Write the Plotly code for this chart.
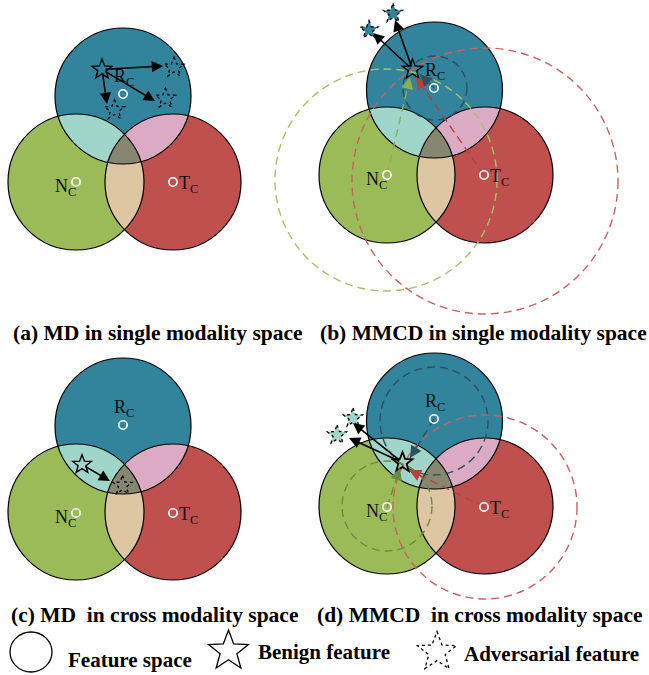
import numpy as np
import plotly.graph_objects as go

W, H = 649, 675

# ---------------- data ----------------
BLUE, GREEN, RED = "#31849B", "#9BBB59", "#C0504D"
C_RN, C_RT, C_NT, C_RNT = "#A0D5CA", "#DDAAC4", "#DFC6A2", "#878771"
DARK = "#2E4F5E"

panels = ["a", "b", "c", "d"]
radius = 68
R_cx = [123, 434.5, 123, 434.5]
R_cy = [96, 90, 426, 421]
N_cx = [76, 387, 76, 387]
N_cy = [182, 175, 512, 506]
T_cx = [173, 485, 173, 485]
T_cy = [182, 175, 512, 506]

# white centre markers
mR = [(123, 94), (434, 88), (123, 425), (434, 419)]
mN = [(76, 182), (387, 175), (76, 513), (387, 507)]
mT = [(173, 182), (484, 175), (173, 513), (484, 507)]

# benign stars (x, y, size)
benign = [(102, 69.5, 10.5), (412.5, 69.5, 10.5), (82, 464.5, 9.8), (402.5, 462.5, 10.5)]
# adversarial stars per panel (x, y, size)
adv = [
    [(174, 67.5, 10.5), (165.5, 98.5, 10.5), (114.5, 110, 10.5)],
    [(369, 30, 9.5), (393, 13.5, 10)],
    [(122.5, 485.5, 10)],
    [(353, 418, 10), (337, 435, 10)],
]
adv_fill = [None, BLUE, None, C_RN]
# arrow tips (benign -> adversarial)
tips = [
    [(163, 66), (155, 101), (107, 104)],
    [(373, 33), (395, 20)],
    [(110, 481)],
    [(353, 423), (349, 438)],
]

# dashed perturbation circles (x, y, r, colour)
dashed = {
    "b": [(435, 88, 32, DARK), (386, 180, 111, "#A6C266"), (485, 181, 133, "#C8625F")],
    "d": [(434, 421, 54, DARK), (387, 506, 45, "#6E8A3E"), (485, 507, 92, "#C8625F")],
}
# dashed guide lines from centres to benign star (x0, y0, x1, y1, colour)
guides = {
    "b": [(387, 175, 410, 77, "#8FAE4E"), (484, 175, 416, 77, "#B8403D"), (434, 88, 420, 74, DARK)],
    "d": [(434, 419, 410, 458, DARK), (484, 507, 409, 470, "#B8403D"), (387, 507, 400, 468, "#6E8A3E")],
}

labels = ["R", "N", "T"]
captions = ["(a) MD in single modality space", "(b) MMCD in single modality space",
            "(c) MD  in cross modality space", "(d) MMCD  in cross modality space"]
cap_xy = [(157.5, 333), (483, 333), (154, 615), (480, 615)]

legend_texts = ["Feature space", "Benign feature", "Adversarial feature"]

# ---------------- helpers ----------------
def circ(cx, cy, r, **kw):
    return dict(type="circle", xref="x", yref="y", x0=cx - r, x1=cx + r,
                y0=cy - r, y1=cy + r, layer="above", **kw)


def inter_path(circs):
    pts = []
    th = np.linspace(0, 2 * np.pi, 2881)
    for i, (cx, cy, r) in enumerate(circs):
        x = cx + r * np.cos(th)
        y = cy + r * np.sin(th)
        m = np.ones_like(x, dtype=bool)
        for j, (ox, oy, orr) in enumerate(circs):
            if j != i:
                m &= (x - ox) ** 2 + (y - oy) ** 2 <= orr ** 2 + 1e-6
        pts += list(zip(x[m], y[m]))
    pts = np.array(pts)
    c = pts.mean(axis=0)
    ang = np.arctan2(pts[:, 1] - c[1], pts[:, 0] - c[0])
    pts = pts[np.argsort(ang)]
    return "M " + " L ".join(f"{px:.2f},{py:.2f}" for px, py in pts) + " Z"


def star_path(cx, cy, R, ratio=0.42):
    pts = []
    for k in range(10):
        a = -np.pi / 2 + k * np.pi / 5
        rr = R if k % 2 == 0 else R * ratio
        pts.append((cx + rr * np.cos(a), cy + rr * np.sin(a)))
    return "M " + " L ".join(f"{px:.2f},{py:.2f}" for px, py in pts) + " Z"


shapes, annots = [], []
SERIF = "Liberation Serif, Times New Roman, serif"

for p in range(4):
    cR = (R_cx[p], R_cy[p], radius)
    cN = (N_cx[p], N_cy[p], radius)
    cT = (T_cx[p], T_cy[p], radius)
    for (cx, cy, r), col in [(cR, BLUE), (cN, GREEN), (cT, RED)]:
        shapes.append(circ(cx, cy, r, fillcolor=col, line=dict(width=0)))
    for cs, col in [([cR, cN], C_RN), ([cR, cT], C_RT), ([cN, cT], C_NT), ([cR, cN, cT], C_RNT)]:
        shapes.append(dict(type="path", xref="x", yref="y", path=inter_path(cs),
                           fillcolor=col, line=dict(width=0), layer="above"))
    for cx, cy, r in [cR, cN, cT]:
        shapes.append(circ(cx, cy, r, line=dict(color="black", width=1.2)))

    key = panels[p]
    for (cx, cy, r, col) in dashed.get(key, []):
        shapes.append(circ(cx, cy, r, line=dict(color=col, width=1.4, dash="8px,5px")))
    for (x0, y0, x1, y1, col) in guides.get(key, []):
        shapes.append(dict(type="line", xref="x", yref="y", x0=x0, y0=y0, x1=x1, y1=y1,
                           line=dict(color=col, width=1.4, dash="8px,5px"), layer="above"))
        d = np.hypot(x1 - x0, y1 - y0)
        ux, uy = (x1 - x0) / d, (y1 - y0) / d
        annots.append(dict(x=x1, y=y1, ax=x1 - 10 * ux, ay=y1 - 10 * uy, xref="x", yref="y",
                           axref="x", ayref="y", text="", showarrow=True, arrowhead=2,
                           arrowsize=1.5, arrowwidth=1.6, arrowcolor=col, standoff=0))

    # centre markers
    for (mx, my) in [mR[p], mN[p], mT[p]]:
        shapes.append(circ(mx, my, 4.2, line=dict(color="white", width=1.6)))

    # labels
    annots.append(dict(x=mR[p][0] + 1, y=mR[p][1] - 17, text="R<sub>C</sub>", showarrow=False,
                       xref="x", yref="y", xanchor="center", yanchor="middle",
                       font=dict(family=SERIF, size=18, color="#111111")))
    annots.append(dict(x=mN[p][0] + 2, y=mN[p][1] + 5, text="N<sub>C</sub>", showarrow=False,
                       xref="x", yref="y", xanchor="right", yanchor="middle",
                       font=dict(family=SERIF, size=18, color="#111111")))
    annots.append(dict(x=mT[p][0] + 4, y=mT[p][1] + 2, text="T<sub>C</sub>", showarrow=False,
                       xref="x", yref="y", xanchor="left", yanchor="middle",
                       font=dict(family=SERIF, size=18, color="#111111")))

    # adversarial stars
    for (sx, sy, sr) in adv[p]:
        kw = dict(fillcolor=adv_fill[p]) if adv_fill[p] else dict(fillcolor="rgba(0,0,0,0)")
        shapes.append(dict(type="path", xref="x", yref="y", path=star_path(sx, sy, sr),
                           line=dict(color="black", width=1.3, dash="dot"), layer="above", **kw))
    # benign star
    bx, by, br = benign[p]
    shapes.append(dict(type="path", xref="x", yref="y", path=star_path(bx, by, br),
                       fillcolor="rgba(0,0,0,0)",
                       line=dict(color="black", width=1.8 if p == 3 else 1.4), layer="above"))
    # arrows benign -> adversarial
    for (tx, ty) in tips[p]:
        annots.append(dict(x=tx, y=ty, ax=bx, ay=by, xref="x", yref="y", axref="x", ayref="y",
                           text="", showarrow=True, arrowhead=2, arrowsize=1.4, arrowwidth=1.6,
                           arrowcolor="black", standoff=0, startstandoff=2))

    # caption
    annots.append(dict(x=cap_xy[p][0], y=cap_xy[p][1], text="<b>" + captions[p] + "</b>",
                       showarrow=False, xref="x", yref="y", xanchor="center", yanchor="middle",
                       font=dict(family=SERIF, size=21.5, color="black")))

# legend
shapes.append(dict(type="circle", xref="x", yref="y", x0=10, x1=52, y0=632, y1=672,
                   line=dict(color="black", width=1.3), layer="above"))
shapes.append(dict(type="path", xref="x", yref="y", path=star_path(228.5, 651, 21, 0.42),
                   line=dict(color="black", width=1.3), layer="above"))
shapes.append(dict(type="path", xref="x", yref="y", path=star_path(437, 652, 20.5, 0.42),
                   line=dict(color="black", width=1.3, dash="dot"), layer="above"))
for txt, x, y in zip(legend_texts, [66, 256, 462], [660, 652, 654]):
    annots.append(dict(x=x, y=y, text="<b>" + txt + "</b>", showarrow=False, xref="x", yref="y",
                       xanchor="left", yanchor="middle",
                       font=dict(family=SERIF, size=21, color="black")))

fig = go.Figure()
fig.add_trace(go.Scatter(x=[0], y=[0], mode="markers", marker=dict(opacity=0), hoverinfo="skip",
                         showlegend=False))
fig.update_layout(
    width=W, height=H, margin=dict(l=0, r=0, t=0, b=0),
    paper_bgcolor="white", plot_bgcolor="white",
    xaxis=dict(range=[0, W], visible=False, fixedrange=True),
    yaxis=dict(range=[H, 0], visible=False, fixedrange=True),
    shapes=shapes, annotations=annots, showlegend=False,
)
fig.write_html("out.html", config=dict(displayModeBar=False),
               post_script="document.body.style.margin='0';document.body.style.padding='0';"
                           "document.body.style.overflow='hidden';")
